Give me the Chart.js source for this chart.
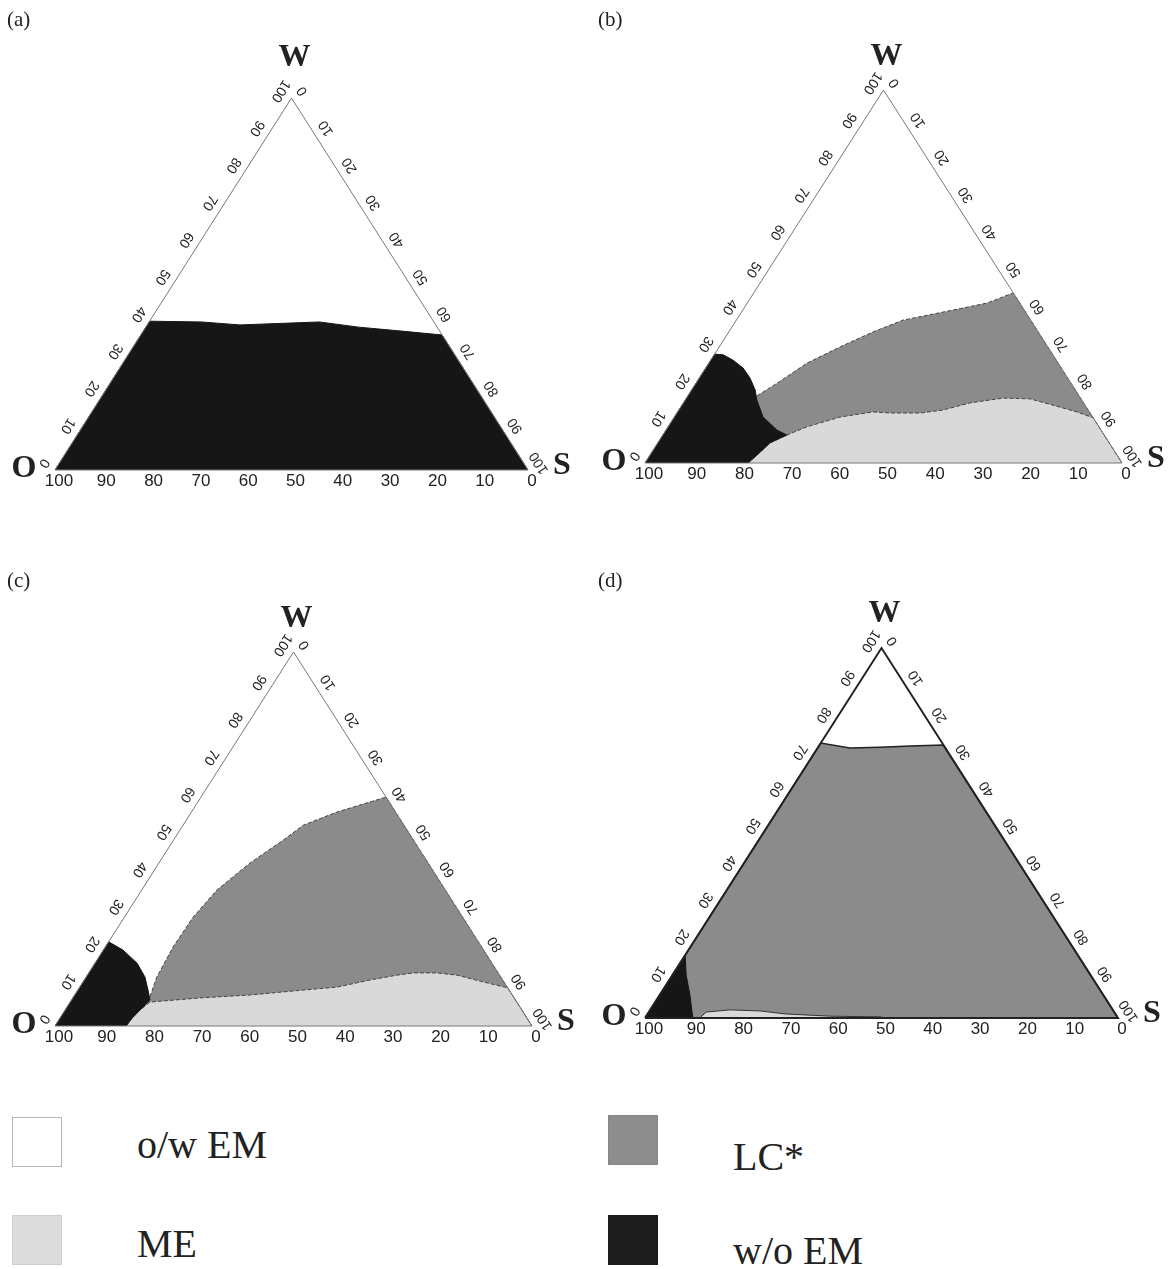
<!DOCTYPE html>
<html>
<head>
<meta charset="utf-8">
<script src="https://cdn.jsdelivr.net/npm/chart.js@4.4.1/dist/chart.umd.min.js"></script>
<style>
  html, body { margin: 0; padding: 0; background: #fff; }
  body { position: relative; width: 1175px; height: 1269px; overflow: hidden;
         font-family: 'Liberation Serif', 'Times New Roman', serif; color: #222; }
  canvas { position: absolute; }
  .tag { position: absolute; font-size: 21px; line-height: 21px; }
  .box { position: absolute; width: 50px; height: 50px; box-sizing: border-box; }
  .leg { position: absolute; font-size: 40px; line-height: 40px; white-space: nowrap; }
</style>
</head>
<body>
<canvas id="pa" width="588" height="540" style="left:0;top:0"></canvas>
<canvas id="pb" width="588" height="540" style="left:588px;top:0"></canvas>
<canvas id="pc" width="588" height="540" style="left:0;top:560px"></canvas>
<canvas id="pd" width="588" height="540" style="left:588px;top:560px"></canvas>

<div class="tag" style="left:7px;top:9px">(a)</div>
<div class="tag" style="left:598px;top:9px">(b)</div>
<div class="tag" style="left:7px;top:570px">(c)</div>
<div class="tag" style="left:598px;top:570px">(d)</div>

<div class="box" style="left:12px;top:1117px;background:#fff;border:1px solid #b5b5b5"></div>
<div class="leg" style="left:137px;top:1125px">o/w EM</div>
<div class="box" style="left:608px;top:1115px;background:#8e8e8e;border:1px solid #858585"></div>
<div class="leg" style="left:733px;top:1137px">LC*</div>
<div class="box" style="left:12px;top:1215px;background:#dcdcdc;border:1px solid #cfcfcf"></div>
<div class="leg" style="left:137px;top:1224px">ME</div>
<div class="box" style="left:608px;top:1215px;background:#1c1c1c"></div>
<div class="leg" style="left:733px;top:1231px">w/o EM</div>

<script>
// every point is [S %, W %]; O % = 100 - S - W
const ticks = [0, 10, 20, 30, 40, 50, 60, 70, 80, 90, 100];

// (a)
const aWithoutEM = [[0,0],[0,40],[11,39.8],[19.6,39],[30,39.5],[36,39.8],[45,38.4],[54,37.4],[63.7,36.3],[100,0]];

// (b)
const bLC = [[14.5,18],[17,21.4],[20.6,26.8],[25.3,31.1],[30.2,35.1],[34.9,38.3],[44.1,41],[50.3,42.9],[54.4,45.6],[100,0],[0,0]];
const bME = [[21.6,0],[22.4,2.1],[23.5,5.4],[26,7.5],[29.1,9.7],[34.7,12.3],[40.9,13.7],[44.7,13.4],[51,13.4],[55.4,14.2],[60,16.1],[66.4,17.4],[72.1,17.2],[77.8,15.5],[83.7,13.7],[87.9,12.1],[100,0]];
const bWithoutEM = [[0,0],[0,29.2],[1.9,29],[4.6,27.6],[7.8,25.5],[10.6,22.8],[13.3,19.6],[15,16.9],[18.6,12.3],[23.3,8.8],[26,7.5],[23.5,5.4],[22.4,2.1],[21.6,0]];

// (c)
const cLC = [[16,7.8],[14.8,13.1],[14.2,21.1],[14.4,29.1],[15.8,36.4],[19.1,43.6],[23,49.7],[25.2,53.7],[30.5,57.2],[38.8,61.2],[100,0],[0,0]];
const cME = [[14.9,0],[15.1,2.1],[15.7,4.3],[16.7,6.4],[26.6,7.5],[36.8,8.3],[47.2,9.6],[53.9,10.4],[59.9,12.3],[64.9,13.6],[68,14.2],[73,14.2],[77.5,13.6],[83.8,11.8],[89.8,10.2],[100,0]];
const cWithoutEM = [[0,0],[0,22.5],[4.1,20.3],[8.8,16.8],[12.3,13.1],[14.7,9.6],[16.4,7],[15.7,4.3],[15.1,2.1],[14.9,0]];

// (d)
const dLC = [[0,0],[0,74.3],[6.8,73],[13.1,73.2],[19.3,73.5],[26.1,73.8],[100,0]];
const dME = [[11.6,0],[12.1,1.6],[16.9,2.2],[23.4,1.9],[29.1,1.1],[38.8,0.5],[49.6,0.3],[50.7,0]];
const dWithoutEM = [[0,0],[0,17],[2.9,11.6],[6.4,6.2],[10.1,0]];

const frame = [[0,0],[0,100],[100,0],[0,0]];

const BLACK = '#161616', GRAY = '#8b8b8b', LIGHT = '#d9d9d9';

// ternary -> cartesian (x 0..100, y 0..100)
function toXY(pts) {
  return pts.map(p => ({ x: p[0] + p[1] / 2, y: p[1] }));
}

function tpx(chart, s, w) {
  return {
    x: chart.scales.x.getPixelForValue(s + w / 2),
    y: chart.scales.y.getPixelForValue(w)
  };
}

function edgeLabels(ctx, A, B, at) {
  const len = Math.hypot(B.x - A.x, B.y - A.y);
  const dx = (B.x - A.x) / len, dy = (B.y - A.y) / len;
  const nx = dy, ny = -dx;
  const ang = Math.atan2(-dy, -dx);
  ticks.forEach(t => {
    const p = at(t);
    ctx.save();
    ctx.translate(p.x + nx * 13, p.y + ny * 13);
    ctx.rotate(ang);
    ctx.fillText(String(t), 0, 0);
    ctx.restore();
  });
}

// labels of the triangle edges and vertices
const ternaryLabels = {
  id: 'ternaryLabels',
  afterDatasetsDraw(chart, args, opts) {
    const ctx = chart.ctx;
    const O = tpx(chart, 0, 0), W = tpx(chart, 0, 100), S = tpx(chart, 100, 0);
    ctx.save();
    ctx.fillStyle = '#222';

    ctx.font = '17px "Liberation Sans", Arial, sans-serif';
    ctx.textAlign = 'center';
    ctx.textBaseline = 'alphabetic';
    ticks.forEach(t => {
      const p = tpx(chart, 100 - t, 0);
      ctx.fillText(String(t), p.x + 4, p.y + 16);
    });

    ctx.font = '14px "Liberation Sans", Arial, sans-serif';
    ctx.textBaseline = 'middle';
    edgeLabels(ctx, O, W, t => tpx(chart, 0, t));
    edgeLabels(ctx, W, S, t => tpx(chart, t, 100 - t));

    ctx.font = 'bold 32px "Liberation Serif", "Times New Roman", serif';
    ctx.fillText('W', W.x + 3, W.y - opts.wGap);
    ctx.fillText('O', O.x - 31, O.y - 1);
    ctx.fillText('S', S.x + 34, S.y - 4);
    ctx.restore();
  }
};

function makePanel(id, padding, regions, edgeColor, edgeWidth, wGap) {
  const datasets = regions.map((r, i) => ({
    data: toXY(r.pts),
    fill: 'shape',
    backgroundColor: r.color,
    borderColor: r.border || r.color,
    borderWidth: r.borderWidth || 1,
    borderDash: r.dash || [],
    pointRadius: 0,
    tension: 0,
    order: regions.length - i + 1
  }));
  datasets.push({
    data: toXY(frame),
    fill: false,
    borderColor: edgeColor,
    borderWidth: edgeWidth,
    pointRadius: 0,
    tension: 0,
    clip: false,
    order: 0
  });

  return new Chart(document.getElementById(id), {
    type: 'line',
    data: { datasets: datasets },
    options: {
      responsive: false,
      animation: false,
      events: [],
      layout: { padding: padding },
      scales: {
        x: { type: 'linear', min: 0, max: 100, display: false },
        y: { type: 'linear', min: 0, max: 100, display: false }
      },
      plugins: {
        legend: { display: false },
        tooltip: { enabled: false },
        ternaryLabels: { wGap: wGap }
      }
    },
    plugins: [ternaryLabels]
  });
}

makePanel('pa', { left: 55, top: 98, right: 60, bottom: 70 }, [
  { pts: aWithoutEM, color: BLACK }
], '#777', 1, 40);

makePanel('pb', { left: 57, top: 90, right: 54, bottom: 77 }, [
  { pts: bLC, color: GRAY, border: '#444', dash: [4, 2] },
  { pts: bME, color: LIGHT, border: '#444', dash: [4, 2] },
  { pts: bWithoutEM, color: BLACK }
], '#777', 1, 33);

makePanel('pc', { left: 55, top: 92, right: 56, bottom: 74 }, [
  { pts: cLC, color: GRAY, border: '#444', dash: [4, 2] },
  { pts: cME, color: LIGHT, border: '#444', dash: [4, 2] },
  { pts: cWithoutEM, color: BLACK }
], '#777', 1, 33);

makePanel('pd', { left: 57, top: 88, right: 58, bottom: 82 }, [
  { pts: dLC, color: GRAY, border: '#222', borderWidth: 1.5 },
  { pts: dME, color: LIGHT, border: '#333' },
  { pts: dWithoutEM, color: BLACK }
], '#222', 2, 34);
</script>
</body>
</html>
